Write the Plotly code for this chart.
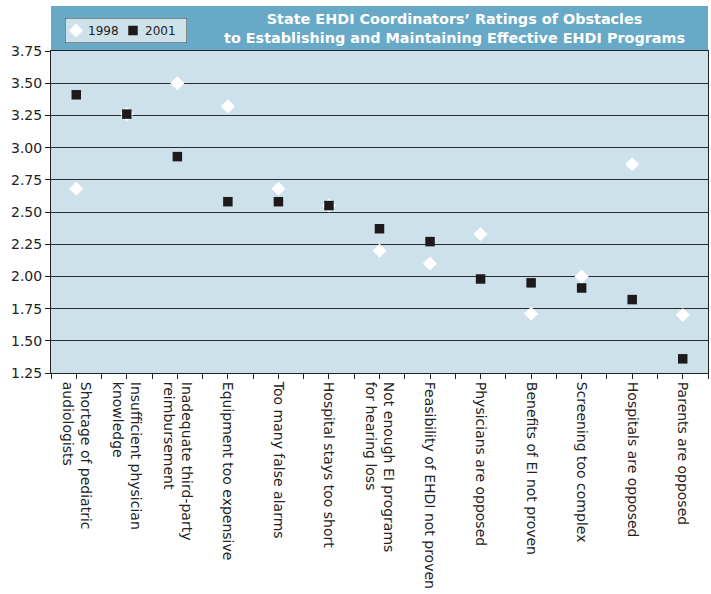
import plotly.graph_objects as go

categories = [
    "Shortage of pediatric<br>audiologists",
    "Insufficient physician<br>knowledge",
    "Inadequate third-party<br>reimbursement",
    "Equipment too expensive",
    "Too many false alarms",
    "Hospital stays too short",
    "Not enough EI programs<br>for hearing loss",
    "Feasibility of EHDI not proven",
    "Physicians are opposed",
    "Benefits of EI not proven",
    "Screening too complex",
    "Hospitals are opposed",
    "Parents are opposed",
]
values_1998 = [2.68, 3.26, 3.50, 3.32, 2.68, 2.55, 2.20, 2.10, 2.33, 1.71, 2.00, 2.87, 1.70]
values_2001 = [3.41, 3.26, 2.93, 2.58, 2.58, 2.55, 2.37, 2.27, 1.98, 1.95, 1.91, 1.82, 1.36]
y_ticks = [1.25, 1.50, 1.75, 2.00, 2.25, 2.50, 2.75, 3.00, 3.25, 3.50, 3.75]
series_names = ["1998", "2001"]
title_lines = ["State EHDI Coordinators\u2019 Ratings of Obstacles",
               "to Establishing and Maintaining Effective EHDI Programs"]

xpos = list(range(1, len(categories) + 1))
FONT = "DejaVu Sans"
BANNER = "#67a9c6"
PLOTBG = "#cde1eb"
DARK = "#1e1a1b"

W, H = 711, 594
L, R, T, B = 51, 3, 6, 221
ph = H - T - B          # paper height in px (banner + plot)
pw = W - L - R
plot_top_px = 51        # pixel y of plot top


def py(pix):
    """pixel y (from top) -> paper y"""
    return (H - B - pix) / ph


def px(pix):
    return (pix - L) / pw


MARK_1998 = dict(symbol="diamond", size=10.8, color="white", line=dict(width=0))
MARK_2001 = dict(symbol="square", size=9.5, color=DARK, line=dict(width=0))

fig = go.Figure()
fig.add_trace(go.Scatter(x=xpos, y=values_1998, mode="markers", name=series_names[0],
                         marker=MARK_1998, showlegend=False))
fig.add_trace(go.Scatter(x=xpos, y=values_2001, mode="markers", name=series_names[1],
                         marker=MARK_2001, showlegend=False))

# banner
fig.add_shape(type="rect", xref="paper", yref="paper",
              x0=0, x1=1, y0=py(plot_top_px), y1=1,
              fillcolor=BANNER, line=dict(width=0), layer="below")

fig.add_annotation(xref="paper", yref="paper",
                   x=px(454), y=py(28.5),
                   text="<b>" + "<br>".join(title_lines) + "</b>",
                   showarrow=False, xanchor="center", yanchor="middle",
                   font=dict(family=FONT, size=14.4, color="white"))

# custom legend box (x2/y2 in pixel-like units)
LEG_X0, LEG_X1, LEG_Y0, LEG_Y1 = 65, 187, 18, 43
lw, lh = LEG_X1 - LEG_X0, LEG_Y1 - LEG_Y0
fig.add_shape(type="rect", xref="x2", yref="y2", x0=1.5, x1=lw + 1.5, y0=-1.5, y1=lh - 1.5,
              fillcolor="#7d8f99", line=dict(width=0), layer="below")
fig.add_shape(type="rect", xref="x2", yref="y2", x0=0, x1=lw, y0=0, y1=lh,
              fillcolor=PLOTBG, line=dict(color="#333", width=1), layer="below")
fig.add_trace(go.Scatter(x=[11], y=[lh / 2], mode="markers", marker=MARK_1998,
                         xaxis="x2", yaxis="y2", showlegend=False, hoverinfo="skip"))
fig.add_trace(go.Scatter(x=[68], y=[lh / 2], mode="markers", marker=MARK_2001,
                         xaxis="x2", yaxis="y2", showlegend=False, hoverinfo="skip"))
for xt, name in [(21, series_names[0]), (78, series_names[1])]:
    fig.add_annotation(xref="x2", yref="y2", x=xt, y=lh / 2, text=name,
                       showarrow=False, xanchor="left", yanchor="middle",
                       font=dict(family=FONT, size=12, color="#222"))

fig.update_layout(
    width=W, height=H,
    margin=dict(l=L, r=R, t=T, b=B, autoexpand=False),
    paper_bgcolor="white",
    plot_bgcolor=PLOTBG,
    font=dict(family=FONT, size=14, color="#222"),
    showlegend=False,
    xaxis=dict(
        range=[0.5, len(categories) + 0.5],
        tickvals=xpos, ticktext=categories,
        tickangle=90, automargin=False,
        showgrid=False, zeroline=False,
        ticks="outside", ticklen=5, tickcolor="#222",
        minor=dict(ticks="outside", ticklen=5, tickcolor="#222", dtick=0.5, tick0=0.5),
        showline=True, linecolor="#222", linewidth=1, mirror=True,
        tickfont=dict(family=FONT, size=14, color="#222"),
    ),
    yaxis=dict(
        domain=[0, py(plot_top_px)],
        range=[1.25, 3.75], automargin=False,
        tickvals=y_ticks, ticktext=["%.2f" % v for v in y_ticks],
        showgrid=True, gridcolor="#2a2a2a", gridwidth=1,
        zeroline=False,
        ticks="outside", ticklen=5, tickcolor="#222",
        showline=True, linecolor="#222", linewidth=1, mirror=True,
        tickfont=dict(family=FONT, size=14, color="#222"),
    ),
    xaxis2=dict(domain=[px(LEG_X0), px(LEG_X1)], range=[0, lw], visible=False,
                anchor="y2", fixedrange=True, automargin=False),
    yaxis2=dict(domain=[py(LEG_Y1), py(LEG_Y0)], range=[0, lh], visible=False,
                anchor="x2", fixedrange=True, automargin=False),
)

fig.write_html("out.html")
